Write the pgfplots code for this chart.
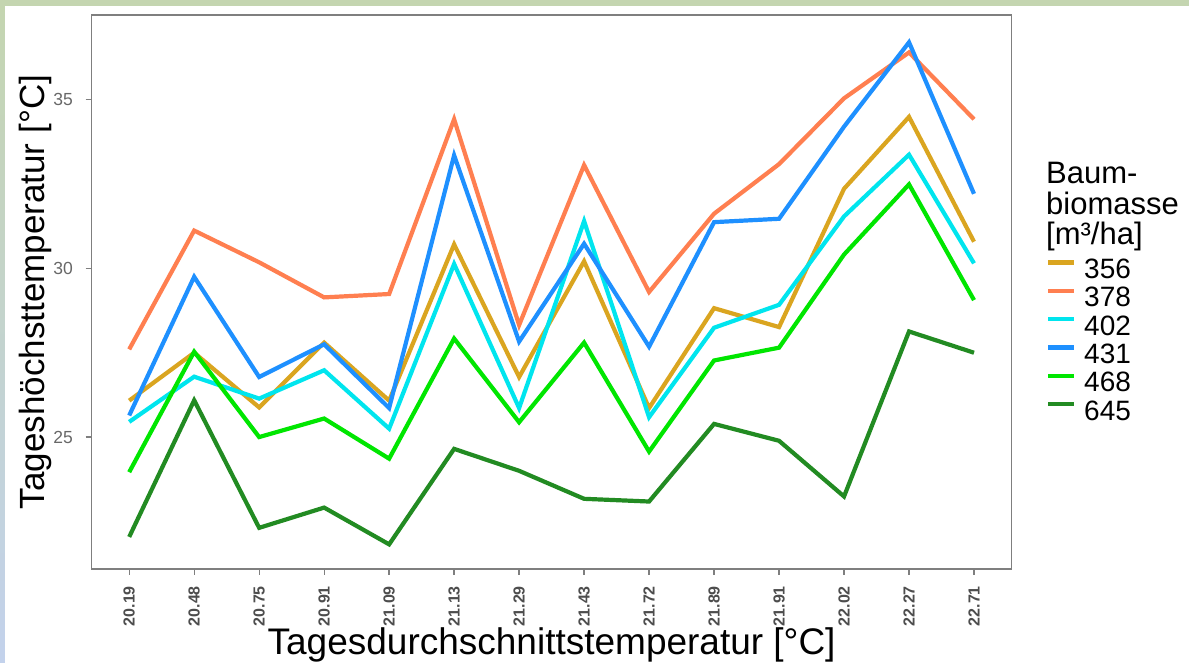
\documentclass[border=0pt]{standalone}
\usepackage{pgfplots}
\usepackage{pgfplotstable}
\pgfplotsset{compat=1.18}
\usepackage{fontspec}
\setmainfont{Liberation Sans}
\definecolor{c356}{HTML}{DAA520}
\definecolor{c378}{HTML}{FF7F50}
\definecolor{c402}{HTML}{00E5EE}
\definecolor{c431}{HTML}{1E90FF}
\definecolor{c468}{HTML}{00E600}
\definecolor{c645}{HTML}{228B22}
\definecolor{framegray}{HTML}{7F7F7F}
\definecolor{tickgray}{HTML}{4D4D4D}
\definecolor{stripgreen}{HTML}{C4D5B0}
\definecolor{stripblue}{HTML}{C3D2EC}

\pgfplotstableread{
x  y356  y378  y402  y431  y468  y645
0  26.08 27.60 25.45 25.64 23.96 22.04
1  27.50 31.12 26.79 29.75 27.53 26.09
2  25.88 30.18 26.14 26.78 25.00 22.31
3  27.80 29.14 26.98 27.75 25.55 22.91
4  26.08 29.24 25.25 25.86 24.36 21.82
5  30.71 34.42 30.13 33.35 27.92 24.65
6  26.78 28.32 25.86 27.83 25.44 24.00
7  30.21 33.06 31.40 30.73 27.80 23.17
8  25.86 29.30 25.59 27.68 24.57 23.09
9  28.82 31.62 28.24 31.37 27.27 25.39
10 28.26 33.09 28.92 31.47 27.65 24.89
11 32.36 35.04 31.54 34.20 30.41 23.24
12 34.49 36.40 33.37 36.70 32.49 28.13
13 30.79 34.42 30.15 32.21 29.06 27.50
}\data

\begin{document}
\begin{tikzpicture}
\path[use as bounding box] (-91.5pt,-94pt) rectangle (1097.5pt,569pt);
\fill[white] (-91.5pt,-94pt) rectangle (1097.5pt,569pt);
\fill[stripgreen] (-91.5pt,563.3pt) rectangle (1097.5pt,569pt);
\shade[top color=stripgreen, bottom color=stripblue] (-91.5pt,-94pt) rectangle (-86.5pt,563.3pt);
\begin{axis}[
  at={(0pt,0pt)}, anchor=south west,
  scale only axis, width=920.2pt, height=554pt,
  xmin=-0.58, xmax=13.58, ymin=21.09, ymax=37.51,
  xtick={0,...,13},
  xticklabels={20.19,20.48,20.75,20.91,21.09,21.13,21.29,21.43,21.72,21.89,21.91,22.02,22.27,22.71},
  ytick={25,30,35},
  axis line style={framegray, line width=1.3pt},
  tick style={framegray, line width=1.3pt},
  tick align=outside, major tick length=6pt,
  xtick pos=bottom, ytick pos=left,
  /pgf/number format/assume math mode=true,
  xticklabel style={yshift=-11pt, rotate=90, anchor=east, inner sep=0pt, text=tickgray, font=\bfseries\fontsize{16}{16}\selectfont},
  yticklabel style={xshift=-12.5pt, anchor=east, inner sep=0pt, text=tickgray!85, font=\fontsize{17.5}{17.5}\selectfont},
  every axis x label/.style={at={(axis description cs:0.5,0)}, yshift=-86pt, anchor=base, font=\fontsize{37}{37}\selectfont},
  every axis y label/.style={at={(axis description cs:0,0.5)}, xshift=-46.5pt, rotate=90, anchor=base, font=\fontsize{35}{35}\selectfont},
  xlabel={Tagesdurchschnittstemperatur [°C]},
  ylabel={Tageshöchsttemperatur [°C]},
  legend style={at={(axis description cs:1.0373,0.5608)}, anchor=north west, draw=none, fill=none, inner sep=0pt, outer sep=0pt, row sep=0pt, column sep=7.7pt, font=\fontsize{28}{28}\selectfont, nodes={inner sep=0pt, text height=20pt, text depth=8.35pt}},
  legend cell align=left,
  legend image code/.code={\draw[#1] (0pt,10pt) -- (26.3pt,10pt);},
  every axis plot/.append style={line width=4.2pt},
]
\addplot[c356] table[x=x,y=y356] {\data};
\addplot[c378] table[x=x,y=y378] {\data};
\addplot[c402] table[x=x,y=y402] {\data};
\addplot[c431] table[x=x,y=y431] {\data};
\addplot[c468] table[x=x,y=y468] {\data};
\addplot[c645] table[x=x,y=y645] {\data};
\legend{356,378,402,431,468,645}
\end{axis}
\node[anchor=base west, inner sep=0pt, font=\fontsize{31}{31}\selectfont] at (954.5pt,385.7pt) {Baum-};
\node[anchor=base west, inner sep=0pt, font=\fontsize{31}{31}\selectfont] at (954.5pt,354.7pt) {biomasse};
\node[anchor=base west, inner sep=0pt, font=\fontsize{31}{31}\selectfont] at (954.5pt,324.7pt) {[m³/ha]};
\end{tikzpicture}
\end{document}
